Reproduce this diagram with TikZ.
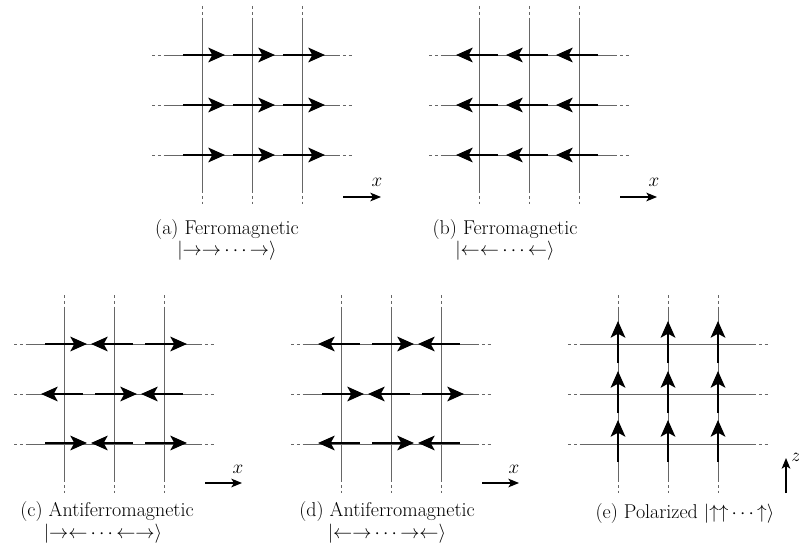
\documentclass[tikz,border=0pt]{standalone}
\usetikzlibrary{arrows.meta}
\newcommand\spinlattice[2]{%
  \foreach \i in {0,1,2} {
    \draw[gridln] (#1+50*\i, #2-35) -- (#1+50*\i, #2+135);
    \draw[extln] (#1+50*\i, #2-49) -- (#1+50*\i, #2-35);
    \draw[extln] (#1+50*\i, #2+135) -- (#1+50*\i, #2+149);
    \draw[gridln] (#1-35, #2+50*\i) -- (#1+135, #2+50*\i);
    \draw[extln] (#1-50, #2+50*\i) -- (#1-35, #2+50*\i);
    \draw[extln] (#1+135, #2+50*\i) -- (#1+150, #2+50*\i);
  }}
\newcommand\spinR[2]{\draw[spinarr] (#1-19,#2) -- (#1+23,#2);}
\newcommand\spinL[2]{\draw[spinarr] (#1+19,#2) -- (#1-23,#2);}
\newcommand\spinU[2]{\draw[spinarr] (#1,#2+19) -- (#1,#2-23);}
\begin{document}
\begin{tikzpicture}[x=0.75pt,y=-0.75pt,
  gridln/.style={black!60, line width=0.6pt},
  extln/.style={black!60, line width=0.6pt, dash pattern=on 2.2pt off 2.2pt},
  spinarr/.style={line width=1.6pt, -{Stealth[length=12.5pt,width=11pt,inset=3pt]}},
  axisarr/.style={line width=0.9pt, -{Stealth[length=8pt,width=6.5pt,inset=2pt]}},
  captxt/.style={inner sep=0pt, font=\fontsize{15}{17}\selectfont},
  axlbl/.style={inner sep=0pt, font=\fontsize{15}{17}\selectfont}]
\useasboundingbox (0,0) rectangle (799,552);

% (a)
\spinlattice{202}{55}
\foreach \r in {55,105,155} {\foreach \v in {202,252,302} {\spinR{\v}{\r}}}
\coordinate (axa0) at (343,197); \coordinate (axa1) at (381,197);
\draw[axisarr] (axa0) -- (axa1);
\node[axlbl] (lxa) at (377,182) {$x$};
\node[captxt, anchor=base] (capa1) at (227,234) {(a) Ferromagnetic};
\node[captxt, anchor=base] (capa2) at (227,256) {$|{\rightarrow}{\rightarrow}\cdots{\rightarrow}\rangle$};

% (b)
\spinlattice{479}{55}
\foreach \r in {55,105,155} {\foreach \v in {479,529,579} {\spinL{\v}{\r}}}
\coordinate (axb0) at (620,197); \coordinate (axb1) at (657,197);
\draw[axisarr] (axb0) -- (axb1);
\node[axlbl] (lxb) at (654,182) {$x$};
\node[captxt, anchor=base] (capb1) at (505,234) {(b) Ferromagnetic};
\node[captxt, anchor=base] (capb2) at (505,256) {$|{\leftarrow}{\leftarrow}\cdots{\leftarrow}\rangle$};

% (c)
\spinlattice{64}{344}
\foreach \r in {344,443} {\spinR{64}{\r}\spinL{114}{\r}\spinR{164}{\r}}
\spinL{64}{394}\spinR{114}{394}\spinL{164}{394}
\coordinate (axc0) at (205,483); \coordinate (axc1) at (242,483);
\draw[axisarr] (axc0) -- (axc1);
\node[axlbl] (lxc) at (238,469) {$x$};
\node[captxt, anchor=base] (capc1) at (107,516) {(c) Antiferromagnetic};
\node[captxt, anchor=base] (capc2) at (103,538) {$|{\rightarrow}{\leftarrow}\cdots{\leftarrow}{\rightarrow}\rangle$};

% (d)
\spinlattice{341}{344}
\foreach \r in {344,443} {\spinL{341}{\r}\spinR{391}{\r}\spinL{441}{\r}}
\spinR{341}{394}\spinL{391}{394}\spinR{441}{394}
\coordinate (axd0) at (482,483); \coordinate (axd1) at (519,483);
\draw[axisarr] (axd0) -- (axd1);
\node[axlbl] (lxd) at (514,469) {$x$};
\node[captxt, anchor=base] (capd1) at (387,516) {(d) Antiferromagnetic};
\node[captxt, anchor=base] (capd2) at (387,538) {$|{\leftarrow}{\rightarrow}\cdots{\rightarrow}{\leftarrow}\rangle$};

% (e)
\spinlattice{618}{344}
\foreach \r in {344,394,443} {\foreach \v in {618,668,718} {\spinU{\v}{\r}}}
\coordinate (axe0) at (786,493); \coordinate (axe1) at (786,458);
\draw[axisarr] (axe0) -- (axe1);
\node[axlbl, anchor=west] (lze) at (791,457) {$z$};
\node[captxt, anchor=base] (cape1) at (685,518) {(e) Polarized $|{\uparrow}{\uparrow}\cdots{\uparrow}\rangle$};
\end{tikzpicture}
\end{document}
